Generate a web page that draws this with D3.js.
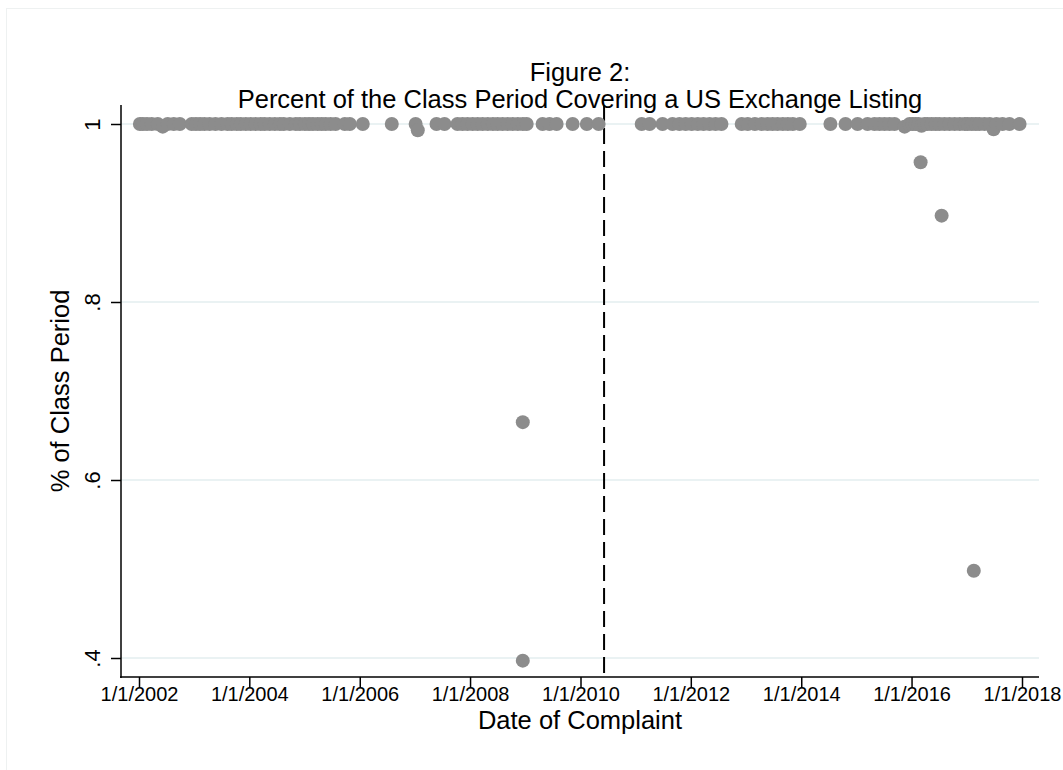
<!DOCTYPE html>
<html>
<head>
<meta charset="utf-8">
<script src="https://cdn.jsdelivr.net/npm/d3@7"></script>
<style>
  html, body { margin: 0; padding: 0; background: #ffffff; }
  svg { display: block; font-family: "Liberation Sans", Arial, Helvetica, sans-serif; }
</style>
</head>
<body>
<svg id="chart" width="1063" height="770"></svg>
<script>
// ---------------- DATA ----------------
const complaintDates = [
  "2002-01-07","2002-01-27","2002-02-23","2002-03-26","2002-05-05","2002-06-07","2002-07-10","2002-08-19",
  "2002-09-28","2002-12-16","2003-01-13","2003-02-09","2003-03-10","2003-04-13","2003-05-22","2003-07-01",
  "2003-08-10","2003-09-07","2003-10-10","2003-11-06","2003-12-09","2004-01-10","2004-02-12","2004-03-16",
  "2004-04-12","2004-05-15","2004-06-18","2004-07-21","2004-08-16","2004-09-25","2004-11-04","2004-12-01",
  "2005-01-03","2005-01-30","2005-02-25","2005-03-28","2005-04-24","2005-05-21","2005-06-22","2005-07-25",
  "2005-09-24","2005-10-27","2006-01-21","2006-08-01","2007-01-06","2007-01-20","2007-05-24","2007-07-16",
  "2007-10-10","2007-11-12","2007-12-15","2008-01-18","2008-02-20","2008-03-24","2008-04-27","2008-05-31",
  "2008-07-01","2008-08-03","2008-09-06","2008-10-09","2008-11-12","2008-12-15","2008-12-15","2008-12-15",
  "2009-01-10","2009-04-25","2009-06-10","2009-07-27","2009-11-10","2010-02-12","2010-05-01",
  "2011-02-10","2011-04-03","2011-06-28","2011-09-02","2011-10-18","2011-11-28","2012-01-07","2012-02-16",
  "2012-03-25","2012-05-04","2012-06-13","2012-07-22","2012-12-03","2013-01-12","2013-02-28","2013-04-14",
  "2013-05-23","2013-06-25","2013-07-28","2013-09-01","2013-10-04","2013-11-06","2013-12-22","2014-07-13",
  "2014-10-21","2015-01-09","2015-03-16","2015-05-01","2015-06-03","2015-07-06","2015-08-08","2015-09-10",
  "2015-11-16","2015-12-19","2016-01-08","2016-01-28","2016-02-17","2016-03-01","2016-03-07","2016-03-27",
  "2016-04-16","2016-05-13","2016-06-09","2016-07-04","2016-07-18","2016-08-06","2016-09-08","2016-10-12",
  "2016-11-15","2016-12-18","2017-01-07","2017-02-03","2017-02-16","2017-03-01","2017-03-25","2017-04-28",
  "2017-06-01","2017-06-27","2017-07-16","2017-08-25","2017-10-10","2017-12-16"
];
const pctClassPeriod = [
  1,1,1,1,1,0.997,1,1,
  1,1,1,1,1,1,1,1,
  1,1,1,1,1,1,1,1,
  1,1,1,1,1,1,1,1,
  1,1,1,1,1,1,1,1,
  1,1,1,1,1,0.993,1,1,
  1,1,1,1,1,1,1,1,
  1,1,1,1,1,1,0.665,0.397,
  1,1,1,1,1,1,1,
  1,1,1,1,1,1,1,1,
  1,1,1,1,1,1,1,1,
  1,1,1,1,1,1,1,1,
  1,1,1,1,1,1,1,1,
  0.997,1,1,1,1,0.957,0.998,1,
  1,1,1,1,0.897,1,1,1,
  1,1,1,1,0.498,1,1,1,
  1,0.994,1,1,1,1
];
const cutoffDate = "2010-06-06";           // vertical dashed reference line
const xTickDates = ["2002-01-01","2004-01-01","2006-01-01","2008-01-01","2010-01-01","2012-01-01","2014-01-01","2016-01-01","2018-01-01"];
const xTickLabels = ["1/1/2002","1/1/2004","1/1/2006","1/1/2008","1/1/2010","1/1/2012","1/1/2014","1/1/2016","1/1/2018"];
const yTickValues = [0.4, 0.6, 0.8, 1];
const yTickLabels = [".4", ".6", ".8", "1"];
const titleLines = ["Figure 2:", "Percent of the Class Period Covering a US Exchange Listing"];
const xAxisTitle = "Date of Complaint";
const yAxisTitle = "% of Class Period";

// ---------------- LAYOUT ----------------
const parse = d3.timeParse("%Y-%m-%d");
const svg = d3.select("#chart");
const plot = { left: 121, right: 1039, top: 105, bottom: 677 };
const FONT = "'Liberation Sans', Arial, Helvetica, sans-serif";

const x = d3.scaleTime()
  .domain([parse(xTickDates[0]), parse(xTickDates[xTickDates.length - 1])])
  .range([139, 1022]);
const y = d3.scaleLinear().domain([0.4, 1]).range([658, 124]);

const points = complaintDates.map((d, i) => ({ date: parse(d), value: pctClassPeriod[i] }));

// outer frame (Stata graph region)
svg.append("rect").attr("x", 6.5).attr("y", 8.5).attr("width", 1100).attr("height", 800)
  .attr("fill", "#ffffff").attr("stroke", "#eef1f1").attr("stroke-width", 1);

// gridlines
svg.append("g").selectAll("line").data(yTickValues).join("line")
  .attr("x1", plot.left).attr("x2", plot.right)
  .attr("y1", d => y(d)).attr("y2", d => y(d))
  .attr("stroke", "#eaf2f3").attr("stroke-width", 2);

// dashed reference line
svg.append("line")
  .attr("x1", x(parse(cutoffDate))).attr("x2", x(parse(cutoffDate)))
  .attr("y1", plot.top).attr("y2", plot.bottom)
  .attr("stroke", "#000").attr("stroke-width", 2)
  .attr("stroke-dasharray", "16,7");

// points
svg.append("g").selectAll("circle").data(points).join("circle")
  .attr("cx", d => x(d.date)).attr("cy", d => y(d.value))
  .attr("r", 7).attr("fill", "#8c8c8c");

// x axis
const xAxis = d3.axisBottom(x)
  .tickValues(xTickDates.map(parse))
  .tickFormat((d, i) => xTickLabels[i])
  .tickSize(11).tickSizeOuter(0).tickPadding(-1);
const gx = svg.append("g").attr("transform", `translate(0,${plot.bottom})`).call(xAxis);
gx.select(".domain").remove();
gx.selectAll(".tick line").attr("stroke", "#000").attr("stroke-width", 1.5);
gx.selectAll(".tick text").attr("font-size", 20).attr("fill", "#000")
  .attr("font-family", FONT).attr("dy", "0.71em");
svg.append("line").attr("x1", plot.left - 1).attr("x2", plot.right)
  .attr("y1", plot.bottom).attr("y2", plot.bottom)
  .attr("stroke", "#000").attr("stroke-width", 1.5);

// y axis
const yAxis = d3.axisLeft(y)
  .tickValues(yTickValues)
  .tickFormat((d, i) => yTickLabels[i])
  .tickSize(10).tickSizeOuter(0);
const gy = svg.append("g").attr("transform", `translate(${plot.left},0)`).call(yAxis);
gy.select(".domain").remove();
gy.selectAll(".tick line").attr("stroke", "#000").attr("stroke-width", 1.5);
gy.selectAll(".tick text")
  .attr("font-size", 22).attr("fill", "#000")
  .attr("font-family", FONT)
  .attr("x", null).attr("dy", null)
  .attr("text-anchor", "middle")
  .attr("transform", "translate(-21,0) rotate(-90)");
svg.append("line").attr("x1", plot.left).attr("x2", plot.left)
  .attr("y1", plot.top).attr("y2", plot.bottom + 1)
  .attr("stroke", "#000").attr("stroke-width", 1.5);

// titles
const midX = (plot.left + plot.right) / 2;
svg.append("text").attr("x", midX).attr("y", 81).attr("text-anchor", "middle")
  .attr("font-size", 25.5).text(titleLines[0]);
svg.append("text").attr("x", midX).attr("y", 108).attr("text-anchor", "middle")
  .attr("font-size", 25.5).text(titleLines[1]);

svg.append("text").attr("x", midX).attr("y", 729).attr("text-anchor", "middle")
  .attr("font-size", 25.5).text(xAxisTitle);

svg.append("text").attr("transform", `translate(69,${(plot.top + plot.bottom) / 2}) rotate(-90)`)
  .attr("text-anchor", "middle").attr("font-size", 25.5).text(yAxisTitle);
</script>
</body>
</html>
